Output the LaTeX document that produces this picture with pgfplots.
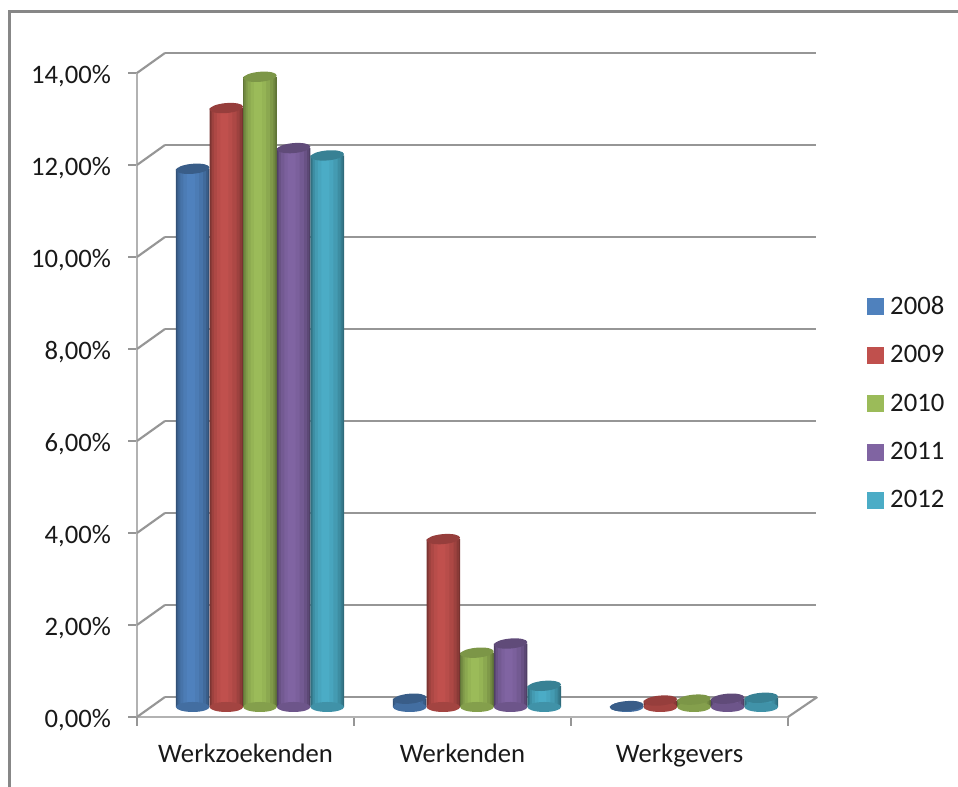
\documentclass[border=0pt]{standalone}
\usepackage{pgfplots}
\pgfplotsset{compat=1.18}
\usepackage{pgfplotstable}
\usepackage{fontspec}
\setmainfont{Carlito}

\definecolor{gridgray}{RGB}{150,150,150}
\definecolor{axisgray}{RGB}{178,178,178}
\definecolor{c08}{RGB}{79,129,189}
\definecolor{c09}{RGB}{192,80,77}
\definecolor{c10}{RGB}{155,187,89}
\definecolor{c11}{RGB}{128,100,162}
\definecolor{c12}{RGB}{75,172,198}

\pgfdeclareplotmark{cylend}{%
  \pgfpathellipse{\pgfpointorigin}{\pgfqpoint{12.6pt}{0pt}}{\pgfqpoint{0pt}{3.75pt}}%
  \pgfusepathqfill}

% values per year, x is the bar's place in its group
\pgfplotstableread{
x v
-0.31 11.70
0.69 0.18
1.69 0.02
}\tabA
\pgfplotstableread{
x v
-0.155 13.02
0.845 3.65
1.845 0.14
}\tabB
\pgfplotstableread{
x v
0 13.70
1 1.18
2 0.16
}\tabC
\pgfplotstableread{
x v
0.155 12.15
1.155 1.38
2.155 0.18
}\tabD
\pgfplotstableread{
x v
0.31 11.99
1.31 0.46
2.31 0.20
}\tabE

% one layer of a cylinder's side: table, width, shift, colour
\newcommand{\stripe}[4]{%
  \addplot[ybar, forget plot, bar width=#2, bar shift=#3, draw=none, fill=#4]
    table[x=x, y=v] {#1};
}
% nested layers, dark at the edges and light left of the middle
\newcommand{\cylinders}[3]{%
  \addplot[only marks, forget plot, mark=cylend, mark options={fill=#2!85!black, draw=none}]
    table[x=x, y expr=0] {#1};
  \stripe{#1}{25.2pt}{0pt}{#2!62!black}
  \stripe{#1}{23.4pt}{-0.1pt}{#2!72!black}
  \stripe{#1}{20.8pt}{-0.4pt}{#2!82!black}
  \stripe{#1}{17pt}{-0.8pt}{#2!90!black}
  \stripe{#1}{11.5pt}{-1.2pt}{#2!96!black}
  \stripe{#1}{6pt}{-1.4pt}{#2}
  \addplot[only marks, forget plot, mark=cylend, mark options={fill=#3, draw=none, rotate=5}]
    table[x=x, y=v] {#1};
}

\begin{document}
\begin{tikzpicture}
\path[use as bounding box] (0pt,0pt) rectangle (718.5pt,590.25pt);

% page frame
\draw[line width=2.4pt, black!47] (7.125pt,0pt) -- (7.125pt,581.6pt) -- (718.5pt,581.6pt);

\pgfplotsset{
  chart/.style={
    at={(102.75pt,52.5pt)}, anchor=south west,
    scale only axis, width=488.25pt, height=483pt,
    xmin=-0.5, xmax=2.5, ymin=0, ymax=14,
    clip=false,
  }
}

% back wall
\begin{axis}[chart, at={(123.75pt,67.5pt)},
    axis line style={draw=none}, tick style={draw=none},
    xtick=\empty, ytick={0,2,...,14}, yticklabels={},
    ymajorgrids, major grid style={gridgray, line width=2.2pt}]
\end{axis}

% front frame with the labels
\begin{axis}[chart,
    axis x line=bottom, axis y line=left,
    axis line style={-, axisgray, line width=2pt},
    tick style={gridgray, line width=1.6pt},
    major tick length=6.5pt,
    tick align=outside,
    xtick={-0.5,0.5,1.5,2.5},
    x tick label as interval,
    xticklabels={Werkzoekenden,Werkenden,Werkgevers},
    ytick={0,2,...,14},
    yticklabel={\pgfmathprintnumber{\tick}\%},
    /pgf/number format/.cd, fixed, fixed zerofill, precision=2, use comma, assume math mode=true,
    /pgfplots/.cd,
    tick label style={font=\fontsize{20}{24}\selectfont, black!90},
    xticklabel style={yshift=-10pt},
    yticklabel style={xshift=-9.5pt, yshift=-2pt}]
  \pgfplotsinvokeforeach{0,2,4,6,8,10,12,14}{
    \draw[gridgray, line width=1.6pt] (axis cs:-0.5,#1) -- ++(21pt,15pt);
  }
  \draw[gridgray, line width=1.6pt] (axis cs:2.5,0) -- ++(22pt,15pt);
\end{axis}

% the bars stand halfway in the depth of the floor
\begin{axis}[chart, at={(113.6pt,60pt)}, hide axis,
    legend style={draw=none, fill=none, at={(axis description cs:1.1,0.302)}, anchor=south west,
      font=\fontsize{20}{24}\selectfont, text=black!90, row sep=17.8pt,
      inner sep=0pt, outer sep=0pt},
    legend cell align=left]
  \cylinders{\tabA}{c08}{c08!72!black}
  \cylinders{\tabB}{c09}{c09!78!black}
  \cylinders{\tabC}{c10}{c10!80!black}
  \cylinders{\tabD}{c11}{c11!75!black}
  \cylinders{\tabE}{c12}{c12!75!black}
  \addlegendimage{only marks, mark=square*, mark size=6pt, c08}
  \addlegendimage{only marks, mark=square*, mark size=6pt, c09}
  \addlegendimage{only marks, mark=square*, mark size=6pt, c10}
  \addlegendimage{only marks, mark=square*, mark size=6pt, c11}
  \addlegendimage{only marks, mark=square*, mark size=6pt, c12}
  \legend{\hspace{3pt}2008,\hspace{3pt}2009,\hspace{3pt}2010,\hspace{3pt}2011,\hspace{3pt}2012}
\end{axis}
\end{tikzpicture}
\end{document}
